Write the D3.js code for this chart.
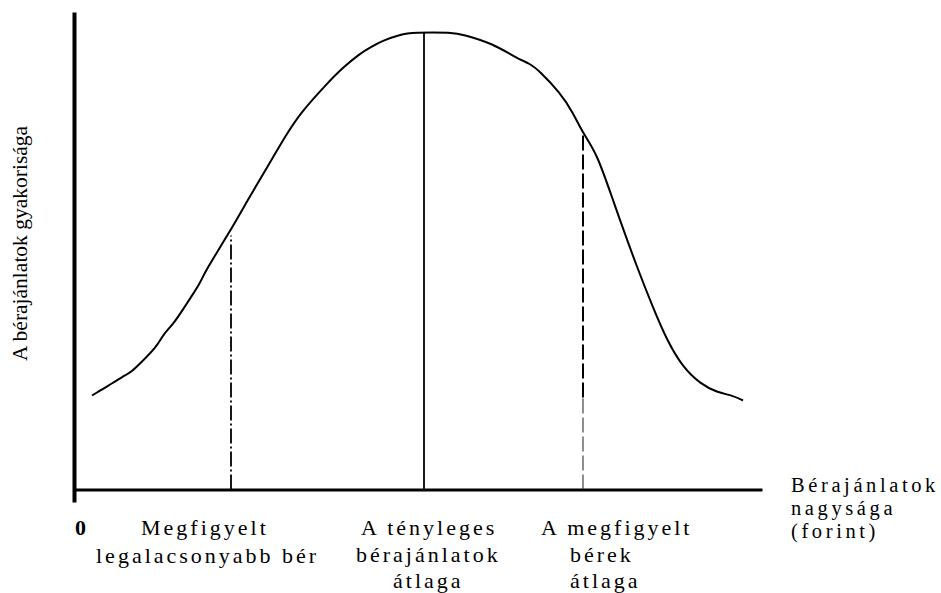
<!DOCTYPE html>
<html>
<head>
<meta charset="utf-8">
<script src="https://cdn.jsdelivr.net/npm/d3@7"></script>
<style>
  html, body { margin: 0; padding: 0; background: #fff; }
  svg { display: block; }
  text { font-family: "Liberation Serif", "Times New Roman", serif; fill: #000; }
</style>
</head>
<body>
<svg id="chart" width="941" height="593"></svg>
<script>
// Frequency curve of wage offers (x: wage offer, y: frequency)
const curveX = [18, 23, 33, 49, 58, 66, 83, 89, 99, 109, 116, 126, 131, 156, 174, 193, 213, 226, 253, 269, 286, 296, 309, 326, 339, 379, 389, 419, 443, 456, 466, 486, 499, 509, 523, 539, 563, 579, 593, 609, 626, 643, 659, 669];
const curveY = [94, 97, 103, 113, 118, 126, 143, 155, 165, 180, 191, 206, 218, 258, 290, 322, 356, 376, 406, 422, 436, 442, 449, 455, 457, 457, 455, 446, 431, 426, 418, 397, 377, 356, 336, 289, 222, 182, 149, 122, 106, 97, 94, 89];

// Vertical reference lines
const markerKeys = ["lowest", "actualMean", "observedMean"];
const markerX = [157, 350, 509];
const markerTop = [254, 457, 357];
const observedFadeTop = 92; // lower, fainter part of the observed-mean line

// Category labels under the axis
const labelLowest = ["Megfigyelt", "legalacsonyabb bér"];
const labelActual = ["A tényleges", "bérajánlatok", "átlaga"];
const labelObserved = ["A megfigyelt", "bérek", "átlaga"];
const xAxisTitle = ["Bérajánlatok", "nagysága", "(forint)"];
const yAxisTitle = "A bérajánlatok gyakorisága";
const originLabel = "0";

const svg = d3.select("#chart");
const x = d3.scaleLinear().domain([0, 688]).range([74, 762]);
const y = d3.scaleLinear().domain([0, 457]).range([489.5, 32.5]);

// X axis (no ticks)
svg.append("g")
  .attr("transform", `translate(0,${y(0)})`)
  .call(d3.axisBottom(x).tickValues([]).tickSizeOuter(0))
  .call(g => g.select(".domain").attr("stroke", "#000").attr("stroke-width", 3));

// Y axis (no ticks), extends past the x axis
const yAxisScale = d3.scaleLinear().domain([0, 1]).range([502, 12]);
svg.append("g")
  .attr("transform", `translate(${x(0)},0)`)
  .call(d3.axisLeft(yAxisScale).tickValues([]).tickSizeOuter(0))
  .call(g => g.select(".domain").attr("stroke", "#000").attr("stroke-width", 4));

// Marker lines
const markerStyles = {
  lowest: { dash: "15,3,2,3", width: 1.8 },
  actualMean: { dash: null, width: 1.8 },
  observedMean: { dash: "15,4", width: 2 }
};
markerKeys.forEach((k, i) => {
  const bottom = k === "observedMean" ? observedFadeTop : 0;
  const ln = svg.append("line")
    .attr("x1", x(markerX[i])).attr("x2", x(markerX[i]))
    .attr("y1", y(bottom)).attr("y2", y(markerTop[i]))
    .attr("stroke", "#000")
    .attr("stroke-width", markerStyles[k].width);
  if (markerStyles[k].dash) ln.attr("stroke-dasharray", markerStyles[k].dash);
});
// faint lower part of the observed-mean line
svg.append("line")
  .attr("x1", x(markerX[2])).attr("x2", x(markerX[2]))
  .attr("y1", y(0)).attr("y2", y(observedFadeTop))
  .attr("stroke", "#333")
  .attr("stroke-width", 1.1)
  .attr("stroke-dasharray", "15,4");

// Curve
const pts = curveX.map((v, i) => [v, curveY[i]]);
svg.append("path")
  .datum(pts)
  .attr("fill", "none")
  .attr("stroke", "#000")
  .attr("stroke-width", 2)
  .attr("stroke-linejoin", "round")
  .attr("d", d3.line().x(d => x(d[0])).y(d => y(d[1])).curve(d3.curveBasis));

// Text helpers
function lines(arr, xs, ys, size, spacing) {
  arr.forEach((t, i) => {
    svg.append("text")
      .attr("x", xs[i]).attr("y", ys[i])
      .attr("font-size", size)
      .attr("letter-spacing", spacing)
      .text(t);
  });
}

svg.append("text")
  .attr("x", 75).attr("y", 535)
  .attr("font-size", 22).attr("font-weight", "bold")
  .text(originLabel);

lines(labelLowest, [141, 96], [535, 563], 22, 3);
lines(labelActual, [361, 356, 393], [535, 562, 588], 22, 3);
lines(labelObserved, [541, 570, 570], [535, 562, 588], 22, 3);
lines(xAxisTitle, [791, 791, 791], [492, 515, 538], 20.5, 3.6);

svg.append("text")
  .attr("transform", "translate(27,243.5) rotate(-90)")
  .attr("text-anchor", "middle")
  .attr("font-size", 21.5)
  .text(yAxisTitle);
</script>
</body>
</html>
